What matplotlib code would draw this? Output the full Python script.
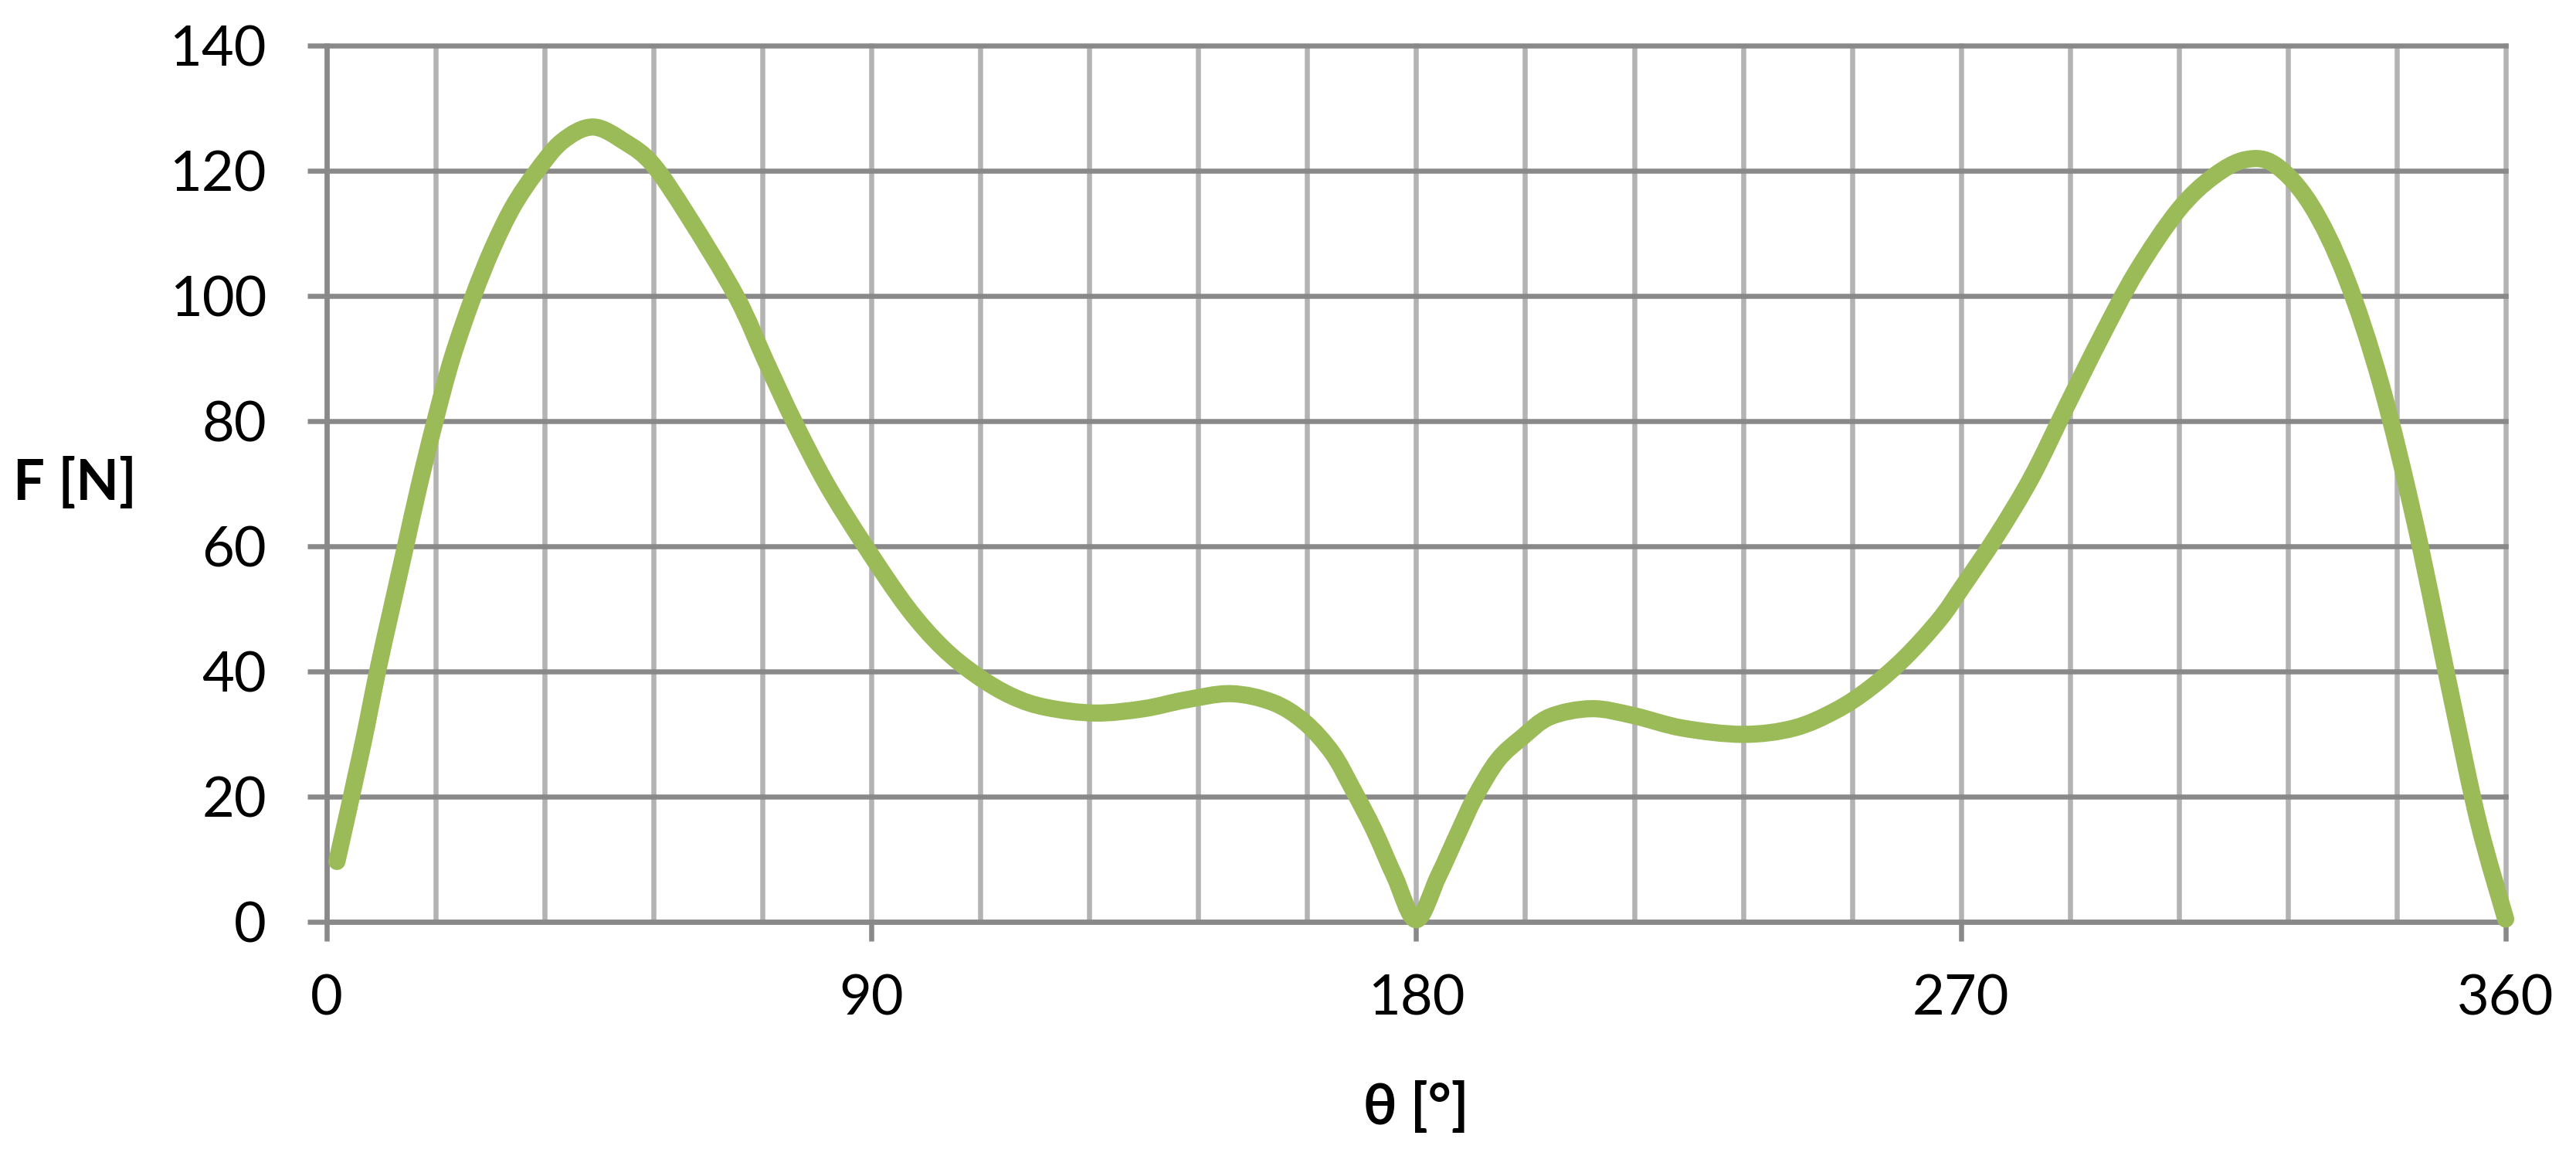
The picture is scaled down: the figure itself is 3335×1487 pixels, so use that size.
import matplotlib
matplotlib.use("Agg")
import matplotlib.pyplot as plt
import numpy as np
from matplotlib.path import Path
from matplotlib.patches import PathPatch
from matplotlib.ticker import MultipleLocator

plt.rcParams['font.family'] = ['Lato', 'DejaVu Sans']

# angle [deg] and force [N]
theta = [1.7, 5.8, 8.4, 10.7, 13.0, 15.3, 17.9, 20.7, 24.2, 27.4, 30.8, 34.6,
         38.9, 44.0, 49.3, 53.9, 59.7, 67.7, 72.6, 77.2, 82.7, 89.1,
         95.9, 101.7, 107.4, 113.2, 118.9, 127.0, 135.0, 141.9, 149.4, 156.3,
         161.5, 166.1, 169.5, 173.0, 176.4, 180.0,
         183.7, 187.2, 189.8, 193.5, 197.5, 202.1, 209.0, 215.9, 224.0, 234.0,
         242.4, 249.3, 255.0, 260.8, 266.5, 270.2,
         275.9, 281.7, 287.4, 293.2, 299.0, 305.9, 311.7, 317.1, 322.0, 327.8,
         333.6, 339.4, 345.1, 350.9, 355.5, 360.0]
force = [9.7, 27.6, 40.0, 50.0, 59.9, 69.8, 80.0, 90.0, 99.9, 107.6, 114.3, 119.8,
         124.7, 127.0, 124.6, 121.0, 112.8, 99.9, 89.5, 80.0, 69.8, 59.9,
         50.3, 43.9, 39.4, 36.1, 34.3, 33.4, 34.1, 35.5, 36.5, 35.1,
         32.0, 27.1, 21.3, 14.8, 7.4, 0.4,
         7.4, 14.8, 20.1, 25.9, 29.5, 32.8, 34.1, 33.0, 31.0, 30.0,
         31.0, 33.8, 37.4, 42.3, 48.4, 53.5,
         61.7, 71.1, 82.3, 93.5, 103.9, 113.7, 119.1, 121.8, 120.9, 114.6,
         103.0, 85.9, 63.5, 36.6, 16.0, 0.5]

xticks = [0, 90, 180, 270, 360]
yticks = [0, 20, 40, 60, 80, 100, 120, 140]

dark = '#898989'
light = '#b3b3b3'
green = '#9bbb59'


def smooth_path(x, y):
    # smoothed line through the points (cubic Bezier segments, like Excel)
    p = np.column_stack([x, y])
    verts = [p[0]]
    codes = [Path.MOVETO]
    n = len(p)
    for i in range(n - 1):
        p0 = p[i - 1] if i > 0 else p[i]
        p3 = p[i + 2] if i + 2 < n else p[i + 1]
        c1 = p[i] + (p[i + 1] - p0) / 6
        c2 = p[i + 1] - (p3 - p[i]) / 6
        verts += [c1, c2, p[i + 1]]
        codes += [Path.CURVE4] * 3
    return Path(verts, codes)


fig = plt.figure(figsize=(33.35, 14.87), dpi=100)
ax = fig.add_axes([0.1268, 0.1974, 0.8459, 0.7629])

line = PathPatch(smooth_path(theta, force), fill=False, edgecolor=green,
                 lw=16, capstyle='round', joinstyle='round', zorder=5,
                 clip_on=False)
ax.add_patch(line)

ax.set_xlim(0, 360)
ax.set_ylim(0, 140)
ax.set_xticks(xticks)
ax.set_yticks(yticks)
ax.xaxis.set_minor_locator(MultipleLocator(18))

ax.grid(axis='x', which='both', color=light, lw=4.7)
ax.grid(axis='y', which='major', color=dark, lw=4.7)
for gl in ax.get_xgridlines() + ax.get_ygridlines() + ax.xaxis.get_minorticklines():
    gl.set_clip_on(False)

for s in ['top', 'right']:
    ax.spines[s].set_visible(False)
for s in ['left', 'bottom']:
    ax.spines[s].set_color(dark)
    ax.spines[s].set_linewidth(4.7)

ax.tick_params(axis='both', which='major', direction='out', length=18,
               width=4.7, color=dark, labelsize=52)
ax.tick_params(axis='x', which='minor', length=0)
ax.tick_params(axis='y', pad=38)
ax.tick_params(axis='x', pad=30)

ax.set_xlabel('θ [°]', fontsize=52, fontweight='bold', va='center')
ax.xaxis.set_label_coords(0.5, -0.212)
ax.set_ylabel('F [N]', fontsize=52, fontweight='bold', rotation=0,
              ha='center', va='center')
ax.yaxis.set_label_coords(-0.1156, 0.5)

fig.savefig('out.png', dpi=100)
